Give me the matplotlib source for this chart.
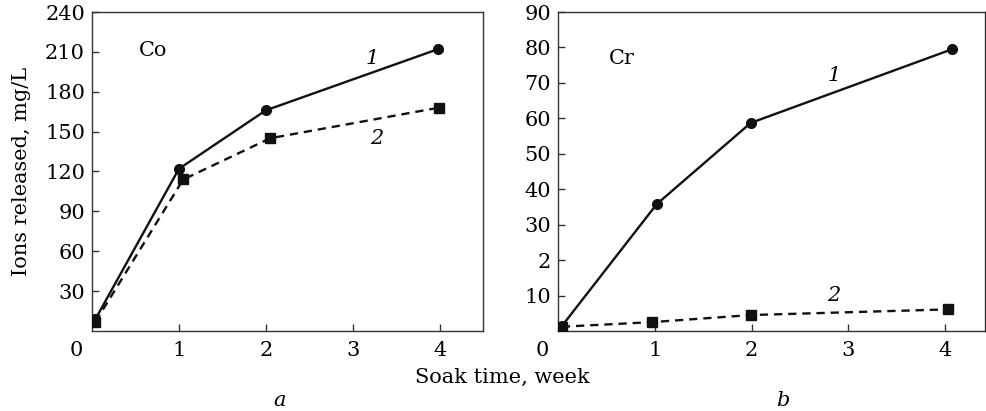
import matplotlib
matplotlib.use("Agg")
import matplotlib.pyplot as plt

plt.rcParams['font.family'] = ['DejaVu Serif']
plt.rcParams['mathtext.fontset'] = 'dejavuserif'

# ---- data ----
co_weeks_1 = [0.04, 1.0, 2.0, 3.98]
co_vals_1 = [9, 122, 166, 212]
co_weeks_2 = [0.04, 1.05, 2.05, 3.99]
co_vals_2 = [7, 114, 145, 168]

cr_weeks_1 = [0.04, 1.02, 1.99, 4.07]
cr_vals_1 = [1.4, 35.8, 58.7, 79.5]
cr_weeks_2 = [0.04, 0.97, 1.99, 4.03]
cr_vals_2 = [1.2, 2.5, 4.5, 6.1]

x_ticks = [1, 2, 3, 4]
x_ticklabels = ["1", "2", "3", "4"]
co_yticks = [30, 60, 90, 120, 150, 180, 210, 240]
co_yticklabels = ["30", "60", "90", "120", "150", "180", "210", "240"]
cr_yticks = [10, 20, 30, 40, 50, 60, 70, 80, 90]
cr_yticklabels = ["10", "2", "30", "40", "50", "60", "70", "80", "90"]

W, H = 987, 411
fig = plt.figure(figsize=(W / 100, H / 100), dpi=100)

def px_axes(x0, y0, x1, y1):
    return fig.add_axes([x0 / W, 1 - y1 / H, (x1 - x0) / W, (y1 - y0) / H])

axL = px_axes(92, 12, 483, 331)
axR = px_axes(558, 12, 985, 331)

FS = 15
lw = 1.7
col = '#111111'

def style(ax, xmax, ymax, yticks, ylabels):
    ax.set_xlim(0, xmax)
    ax.set_ylim(0, ymax)
    ax.set_xticks(x_ticks)
    ax.set_xticklabels(x_ticklabels)
    ax.set_yticks(yticks)
    ax.set_yticklabels(ylabels)
    ax.tick_params(axis='both', direction='in', length=5, width=1.0,
                   labelsize=FS, color='#333333')
    ax.tick_params(axis='x', pad=7)
    ax.tick_params(axis='y', pad=5)
    for s in ax.spines.values():
        s.set_linewidth(1.0)
        s.set_color('#333333')
    ax.annotate("0", xy=(0, 0), xycoords='axes fraction',
                xytext=(-11, -14), textcoords='offset points',
                ha='center', va='center', fontsize=FS)

style(axL, 4.5, 240, co_yticks, co_yticklabels)
style(axR, 4.41, 90, cr_yticks, cr_yticklabels)

# Co
axL.plot(co_weeks_1, co_vals_1, '-', color=col, lw=lw, marker='o', ms=7, zorder=3)
axL.plot(co_weeks_2, co_vals_2, linestyle=(0, (3.5, 2.5)), color=col, lw=lw,
         marker='s', ms=6.5, zorder=3)
# Cr
axR.plot(cr_weeks_1, cr_vals_1, '-', color=col, lw=lw, marker='o', ms=7, zorder=3)
axR.plot(cr_weeks_2, cr_vals_2, linestyle=(0, (3.5, 2.5)), color=col, lw=lw,
         marker='s', ms=6.5, zorder=3)

axL.text(0.7, 211, "Co", fontsize=FS, ha='center', va='center')
axR.text(0.66, 77, "Cr", fontsize=FS, ha='center', va='center')

axL.text(3.22, 205, "1", fontsize=FS, style='italic', ha='center', va='center')
axL.text(3.28, 145, "2", fontsize=FS, style='italic', ha='center', va='center')
axR.text(2.85, 72, "1", fontsize=FS, style='italic', ha='center', va='center')
axR.text(2.85, 10, "2", fontsize=FS, style='italic', ha='center', va='center')

axL.set_ylabel("Ions released, mg/L", fontsize=FS)
axL.yaxis.set_label_coords(-0.155, 0.5)

fig.text(502 / W, 1 - 377 / H, "Soak time, week", fontsize=FS, ha='center', va='center')
fig.text(280 / W, 1 - 400 / H, "a", fontsize=FS, style='italic', ha='center', va='center')
fig.text(783 / W, 1 - 400 / H, "b", fontsize=FS, style='italic', ha='center', va='center')

fig.savefig("out.png", dpi=100)
